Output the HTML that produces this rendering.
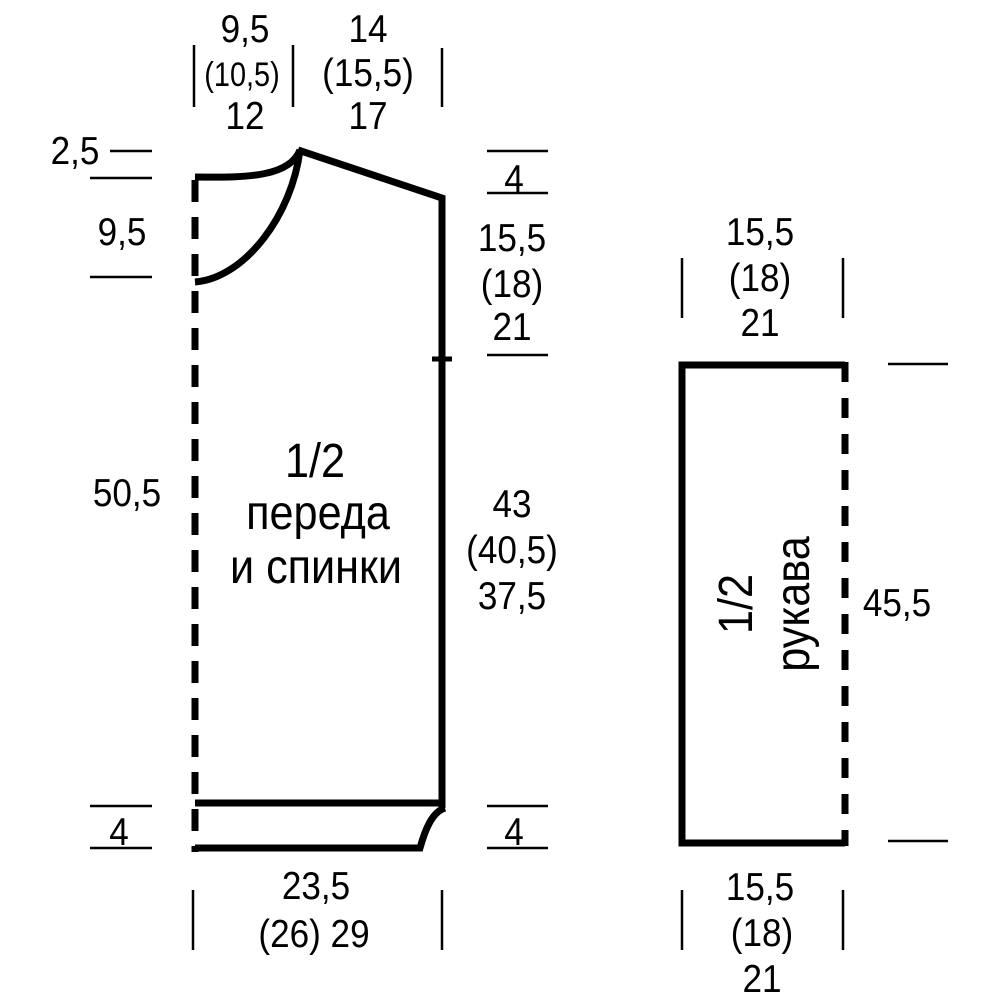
<!DOCTYPE html>
<html><head><meta charset="utf-8"><style>
html,body{margin:0;padding:0;background:#fff;}
svg{display:block}
text{font-family:"Liberation Sans",sans-serif;fill:#000;text-anchor:middle;}
</style></head><body>
<svg width="1000" height="1000" viewBox="0 0 1000 1000" xmlns="http://www.w3.org/2000/svg">
<g stroke="#000" fill="none" stroke-width="7">
<line x1="195" y1="180" x2="195" y2="852" stroke-dasharray="22 15"/>
<path d="M195 177 C250 178 290 176 300 150"/>
<path d="M300 150 C292 215 245 278 195 282"/>
<path d="M298 150 L442 198 L442 808" stroke-linejoin="miter"/>
<line x1="432" y1="359" x2="452" y2="359" stroke-width="5"/>
<line x1="195" y1="803" x2="445" y2="803"/>
<path d="M195 848 L420 848 C425 830 432 812 445 808"/>
<path d="M845 365 L682 365 L682 843 L845 843"/>
<line x1="845" y1="362" x2="845" y2="846" stroke-dasharray="20 16"/>
</g>
<g stroke="#000" stroke-width="2.5">
<line x1="194" y1="45" x2="194" y2="107"/>
<line x1="293" y1="45" x2="293" y2="107"/>
<line x1="442" y1="48" x2="442" y2="107"/>
<line x1="110" y1="151" x2="152" y2="151"/>
<line x1="90" y1="178" x2="152" y2="178"/>
<line x1="90" y1="277" x2="152" y2="277"/>
<line x1="90" y1="806" x2="152" y2="806"/>
<line x1="90" y1="848" x2="152" y2="848"/>
<line x1="487" y1="151" x2="548" y2="151"/>
<line x1="487" y1="193" x2="548" y2="193"/>
<line x1="487" y1="355" x2="548" y2="355"/>
<line x1="487" y1="806" x2="548" y2="806"/>
<line x1="487" y1="848" x2="548" y2="848"/>
<line x1="193" y1="890" x2="193" y2="950"/>
<line x1="442" y1="890" x2="442" y2="950"/>
<line x1="682" y1="258" x2="682" y2="318"/>
<line x1="843" y1="258" x2="843" y2="318"/>
<line x1="888" y1="364" x2="948" y2="364"/>
<line x1="888" y1="841" x2="948" y2="841"/>
<line x1="682" y1="890" x2="682" y2="950"/>
<line x1="843" y1="890" x2="843" y2="950"/>
</g>
<g font-size="39">
<text transform="translate(245,42) scale(0.9,1)">9,5</text>
<text transform="translate(242,86) scale(0.85,1)" font-size="34">(10,5)</text>
<text transform="translate(245,129) scale(0.9,1)">12</text>
<text transform="translate(368,42) scale(0.9,1)">14</text>
<text transform="translate(368,86) scale(0.9,1)">(15,5)</text>
<text transform="translate(368,129) scale(0.9,1)">17</text>
<text transform="translate(75,164) scale(0.9,1)">2,5</text>
<text transform="translate(122,245) scale(0.9,1)">9,5</text>
<text transform="translate(127,506) scale(0.9,1)">50,5</text>
<text transform="translate(119,845) scale(0.9,1)">4</text>
<text transform="translate(514,192) scale(0.9,1)">4</text>
<text transform="translate(512,251) scale(0.9,1)">15,5</text>
<text transform="translate(512,297) scale(0.9,1)">(18)</text>
<text transform="translate(512,340) scale(0.9,1)">21</text>
<text transform="translate(512,517) scale(0.9,1)">43</text>
<text transform="translate(512,563) scale(0.9,1)">(40,5)</text>
<text transform="translate(512,609) scale(0.9,1)">37,5</text>
<text transform="translate(514,845) scale(0.9,1)">4</text>
<text transform="translate(316,899) scale(0.9,1)">23,5</text>
<text transform="translate(314,947) scale(0.9,1)">(26)  29</text>
<text transform="translate(760,245) scale(0.9,1)">15,5</text>
<text transform="translate(760,291) scale(0.9,1)">(18)</text>
<text transform="translate(760,336) scale(0.9,1)">21</text>
<text transform="translate(897,616) scale(0.9,1)">45,5</text>
<text transform="translate(760,900) scale(0.9,1)">15,5</text>
<text transform="translate(762,946) scale(0.9,1)">(18)</text>
<text transform="translate(762,992) scale(0.9,1)">21</text>
</g>
<g font-size="48">
<text transform="translate(315,477) scale(0.9,1)">1/2</text>
<text transform="translate(318,529) scale(0.9,1)">переда</text>
<text transform="translate(316,583) scale(0.9,1)">и спинки</text>
<text transform="translate(752,604) rotate(-90) scale(0.9,1)">1/2</text>
<text transform="translate(809,604) rotate(-90) scale(0.9,1)">рукава</text>
</g>
</svg>
</body></html>
